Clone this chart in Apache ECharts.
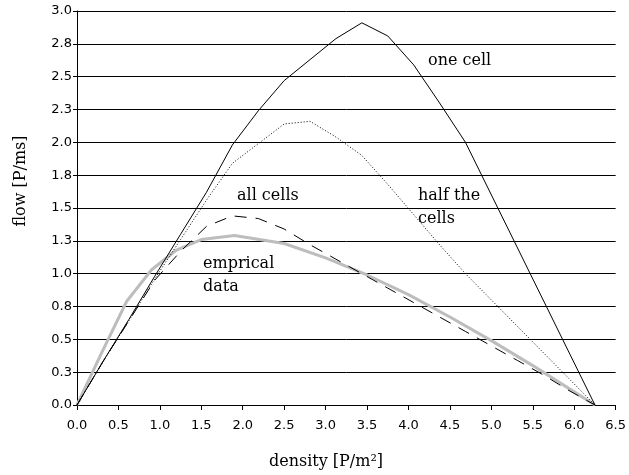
<!DOCTYPE html>
<html>
<head>
<meta charset="utf-8">
<script src="https://cdn.jsdelivr.net/npm/echarts@6/dist/echarts.min.js"></script>
<style>html,body{margin:0;padding:0;background:#fff}#c{width:629px;height:475px}</style>
</head>
<body>
<div id="c"></div>
<script>
// ---- data ----
const oneCellX = [0, 0.3125, 0.625, 0.9375, 1.25, 1.5625, 1.875, 2.1875, 2.5, 2.8125, 3.125, 3.4375, 3.75, 4.0625, 4.375, 4.6875, 6.25];
const oneCellY = [0, 0.33, 0.65, 0.98, 1.3, 1.62, 1.98, 2.24, 2.47, 2.63, 2.79, 2.91, 2.81, 2.59, 2.3, 2.0, 0];

const halfX = [0, 0.3125, 0.625, 0.9375, 1.25, 1.5625, 1.875, 2.1875, 2.5, 2.8125, 3.125, 3.4375, 3.75, 4.0625, 4.375, 4.6875, 5.0, 5.3125, 5.625, 5.9375, 6.25];
const halfY = [0, 0.33, 0.64, 0.96, 1.26, 1.56, 1.84, 1.99, 2.14, 2.16, 2.04, 1.9, 1.68, 1.45, 1.22, 1.0, 0.8, 0.6, 0.4, 0.2, 0];

const allX = [0, 0.3125, 0.625, 0.9375, 1.25, 1.5625, 1.875, 2.1875, 2.5, 2.8125, 3.125, 3.4375, 3.75, 4.0625, 4.375, 4.6875, 5.0, 5.3125, 5.625, 5.9375, 6.25];
const allY = [0, 0.33, 0.64, 0.95, 1.17, 1.36, 1.44, 1.42, 1.34, 1.22, 1.11, 1.0, 0.89, 0.78, 0.67, 0.56, 0.45, 0.34, 0.23, 0.11, 0];

const empX = [0, 0.3, 0.6, 0.9, 1.2, 1.5, 1.9, 2.5, 3.0, 3.5, 4.0, 4.5, 5.0, 5.5, 6.0, 6.25];
const empY = [0, 0.4, 0.79, 1.03, 1.18, 1.26, 1.29, 1.23, 1.12, 0.99, 0.84, 0.67, 0.49, 0.3, 0.1, 0];

const xTitle = 'density [P/m²]';
const yTitle = 'flow [P/ms]';
const annotations = ['one cell', 'half the\ncells', 'all cells', 'emprical\ndata'];

const zip = (xs, ys) => xs.map((x, i) => [x, ys[i]]);

const chart = echarts.init(document.getElementById('c'));
const serifFont = '16px "DejaVu Serif"';
const sans = 'DejaVu Sans';
const txt = (text, x, y, extra) => Object.assign({
  type: 'text', x: x, y: y,
  style: { text: text, font: serifFont, fill: '#000', textAlign: 'left', textVerticalAlign: 'middle', lineHeight: 23 }
}, extra || {});

chart.setOption({
  animation: false,
  backgroundColor: '#fff',
  grid: { left: 77, right: 9, top: 11, bottom: 70 },
  xAxis: {
    type: 'value', min: 0, max: 6.5, interval: 0.5,
    axisLine: { show: true, onZero: false, lineStyle: { color: '#000', width: 1 } },
    axisTick: { show: true, length: 5, lineStyle: { color: '#000' } },
    axisLabel: { color: '#000', fontFamily: sans, fontSize: 13, margin: 14, formatter: v => v.toFixed(1) },
    splitLine: { show: false }
  },
  yAxis: {
    type: 'value', min: 0, max: 3, interval: 0.25,
    axisLine: { show: true, lineStyle: { color: '#000', width: 1 } },
    axisTick: { show: true, length: 4, lineStyle: { color: '#000' } },
    axisLabel: { color: '#000', fontFamily: sans, fontSize: 13, margin: 5, formatter: v => v.toFixed(1) },
    splitLine: { show: true, lineStyle: { color: '#000', width: 1 } }
  },
  series: [
    { name: 'emprical data', type: 'line', data: zip(empX, empY), symbol: 'none',
      lineStyle: { color: '#bdbdbd', width: 3 }, z: 2 },
    { name: 'one cell', type: 'line', data: zip(oneCellX, oneCellY), symbol: 'none',
      lineStyle: { color: '#000', width: 1 }, z: 3 },
    { name: 'half the cells', type: 'line', data: zip(halfX, halfY), symbol: 'none',
      lineStyle: { color: '#000', width: 1, type: [1, 2] }, z: 3 },
    { name: 'all cells', type: 'line', data: zip(allX, allY), symbol: 'none',
      lineStyle: { color: '#000', width: 1, type: [12, 9] }, z: 3 }
  ],
  graphic: [
    txt(annotations[0], 428, 61),
    txt(annotations[1].split('\n')[0], 418, 196),
    txt(annotations[1].split('\n')[1], 418, 219),
    txt(annotations[2], 237, 196),
    txt(annotations[3].split('\n')[0], 203, 264),
    txt(annotations[3].split('\n')[1], 203, 287),
    { type: 'text', x: 326, y: 462,
      style: { text: xTitle, font: serifFont, fill: '#000', textAlign: 'center', textVerticalAlign: 'middle' } },
    { type: 'text', x: 21, y: 181, rotation: Math.PI / 2,
      style: { text: yTitle, font: serifFont, fill: '#000', textAlign: 'center', textVerticalAlign: 'middle' } }
  ]
});
</script>
</body>
</html>
